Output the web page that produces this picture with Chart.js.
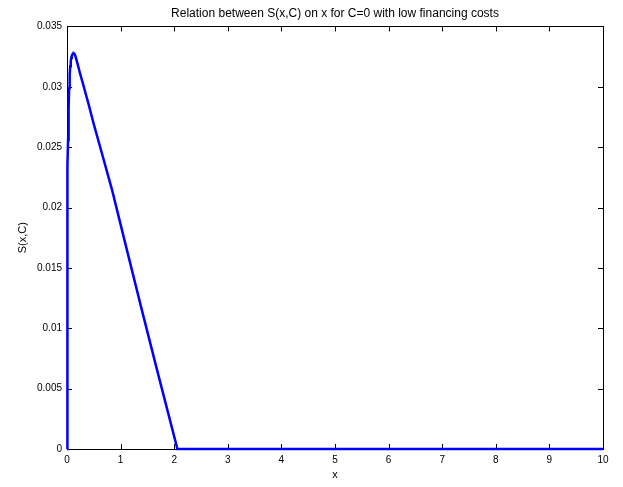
<!DOCTYPE html>
<html>
<head>
<meta charset="utf-8">
<script src="https://cdn.jsdelivr.net/npm/chart.js@4/dist/chart.umd.min.js"></script>
<style>
  html, body { margin: 0; padding: 0; background: #fff; }
  #wrap { width: 623px; height: 487px; }
</style>
</head>
<body>
<div id="wrap"><canvas id="c" width="623" height="487"></canvas></div>
<script>
// S(x,C) sampled along x (C = 0, low financing costs)
const xValues = [0, 0.002, 0.005, 0.01, 0.015, 0.02, 0.03, 0.04, 0.05, 0.06, 0.07, 0.08, 0.09, 0.1, 0.115, 0.127, 0.14, 0.16, 0.185, 0.215, 0.25, 0.295, 0.35, 0.4, 0.5, 0.638, 0.844, 1.1, 1.397, 1.7, 2.06, 3, 4, 5, 6, 7, 8, 9, 10];
const sValues = [0, 0.0095, 0.0155, 0.0205, 0.0235, 0.0256, 0.0282, 0.0299, 0.0310, 0.0317, 0.0321, 0.0324, 0.03258, 0.03268, 0.03275, 0.03276, 0.03272, 0.0325, 0.0321, 0.0316, 0.0310, 0.0303, 0.0294, 0.0286, 0.0269, 0.0247, 0.0214, 0.0168, 0.0115, 0.0062, 0, 0, 0, 0, 0, 0, 0, 0, 0];
const xTicks = [0, 1, 2, 3, 4, 5, 6, 7, 8, 9, 10];
const yTicks = [0, 0.005, 0.01, 0.015, 0.02, 0.025, 0.03, 0.035];

const FAMILY = '"Liberation Sans", Arial, Helvetica, sans-serif';
const TICK_FONT = { family: FAMILY, size: 10, weight: 'normal' };
const LABEL_FONT = { family: FAMILY, size: 11, weight: 'normal' };
const TITLE_FONT = { family: FAMILY, size: 12, weight: 'normal' };

// Box around the axes with short inward tick marks on all four sides;
// the title is centred over the plotting area rather than the canvas.
const boxPlugin = {
  id: 'box',
  afterLayout(chart) {
    const tb = chart.titleBlock;
    if (tb) {
      tb.left = chart.chartArea.left;
      tb.right = chart.chartArea.right;
      tb.width = tb.right - tb.left;
    }
  },
  beforeDatasetsDraw(chart) {
    const { ctx, chartArea: a, scales } = chart;
    const len = 5;
    ctx.save();
    ctx.strokeStyle = '#000';
    ctx.lineWidth = 1;
    ctx.beginPath();
    scales.x.ticks.forEach(t => {
      const px = Math.round(scales.x.getPixelForValue(t.value)) + 0.5;
      ctx.moveTo(px, a.bottom); ctx.lineTo(px, a.bottom - len);
      ctx.moveTo(px, a.top); ctx.lineTo(px, a.top + len);
    });
    scales.y.ticks.forEach(t => {
      const py = Math.round(scales.y.getPixelForValue(t.value)) + 0.5;
      ctx.moveTo(a.left, py); ctx.lineTo(a.left + len, py);
      ctx.moveTo(a.right, py); ctx.lineTo(a.right - len, py);
    });
    ctx.stroke();
    ctx.strokeRect(Math.round(a.left) + 0.5, Math.round(a.top) + 0.5,
                   Math.round(a.right - a.left), Math.round(a.bottom - a.top));
    ctx.restore();
  }
};

new Chart(document.getElementById('c'), {
  type: 'scatter',
  data: {
    datasets: [{
      data: xValues.map((x, i) => ({ x: x, y: sValues[i] })),
      showLine: true,
      borderColor: '#0000ff',
      borderWidth: 2.5,
      pointRadius: 0,
      tension: 0,
      clip: false
    }]
  },
  options: {
    responsive: false,
    animation: false,
    devicePixelRatio: 1,
    layout: { padding: { left: 0, right: 20, top: 0, bottom: 0 } },
    plugins: {
      legend: { display: false },
      tooltip: { enabled: false },
      title: {
        display: true,
        text: 'Relation between S(x,C) on x for C=0 with low financing costs',
        color: '#000',
        font: TITLE_FONT,
        padding: { top: 6, bottom: 6 }
      }
    },
    scales: {
      x: {
        type: 'linear',
        min: 0, max: 10,
        afterBuildTicks: s => { s.ticks = xTicks.map(v => ({ value: v })); },
        afterFit: s => { s.height = 38; },
        ticks: { color: '#000', font: TICK_FONT, padding: 5, maxRotation: 0, callback: v => String(v) },
        grid: { display: false, drawTicks: false },
        border: { display: false },
        title: { display: true, text: 'x', color: '#000', font: LABEL_FONT, padding: { top: 0, bottom: 5 } }
      },
      y: {
        type: 'linear',
        min: 0, max: 0.035,
        afterBuildTicks: s => { s.ticks = yTicks.map(v => ({ value: v })); },
        afterFit: s => { s.width = 67; },
        ticks: { color: '#000', font: TICK_FONT, padding: 5, callback: v => String(+v.toFixed(3)) },
        grid: { display: false, drawTicks: false },
        border: { display: false },
        title: { display: true, text: 'S(x,C)', color: '#000', font: LABEL_FONT, padding: { top: 16, bottom: 0 } }
      }
    }
  },
  plugins: [boxPlugin]
});
</script>
</body>
</html>
